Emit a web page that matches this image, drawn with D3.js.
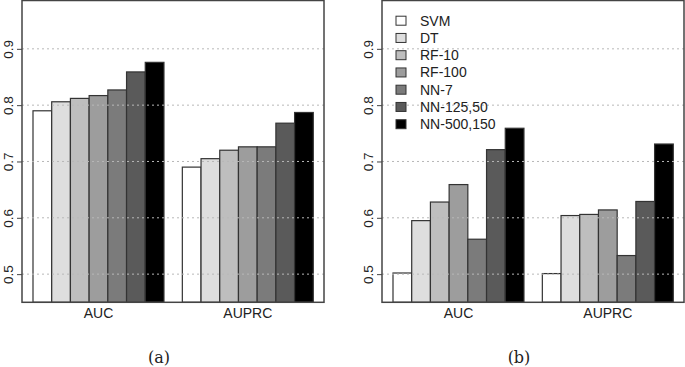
<!DOCTYPE html>
<html>
<head>
<meta charset="utf-8">
<script src="https://cdn.jsdelivr.net/npm/d3@7"></script>
<style>
  body { margin: 0; background: #fff; }
  svg { display: block; font-family: "Liberation Sans", Arial, sans-serif; }
</style>
</head>
<body>
<div id="viz"></div>
<script>
// models (legend order) and the two metric groups
var models = ["SVM", "DT", "RF-10", "RF-100", "NN-7", "NN-125,50", "NN-500,150"];
var metrics = ["AUC", "AUPRC"];

// panel (a)
var aucA   = [0.790, 0.806, 0.812, 0.817, 0.827, 0.859, 0.876];
var auprcA = [0.690, 0.705, 0.720, 0.726, 0.726, 0.768, 0.787];

// panel (b)
var aucB   = [0.502, 0.595, 0.628, 0.659, 0.562, 0.721, 0.759];
var auprcB = [0.501, 0.604, 0.606, 0.614, 0.533, 0.629, 0.731];

var yTicks = [0.5, 0.6, 0.7, 0.8, 0.9];
var captions = ["(a)", "(b)"];

var fills = ["#ffffff", "#dedede", "#bebebe", "#9d9d9d", "#7b7b7b", "#5a5a5a", "#000000"];

var W = 685, H = 367;

var svg = d3.select("#viz").append("svg")
  .attr("width", W)
  .attr("height", H);

// box of one panel, in panel coordinates
var box = {left: 22, right: 324, top: 0.5, bottom: 302.3};

var y = d3.scaleLinear().domain([0.45, 0.9858]).range([box.bottom, box.top]);

var x0 = d3.scaleBand().domain(metrics).range([33, 313.3]).paddingInner(0.123).paddingOuter(0);
var x1 = d3.scaleBand().domain(models).range([0, x0.bandwidth()]);

function panel(offset, values, caption, showLegend) {
  var g = svg.append("g").attr("transform", "translate(" + offset + ",0)");

  var rows = metrics.map(function(m, i) {
    return {metric: m, vals: values[i]};
  });

  // bars
  var grp = g.selectAll("g.grp")
    .data(rows)
    .enter().append("g")
    .attr("class", "grp")
    .attr("transform", d => "translate(" + x0(d.metric) + ",0)");

  grp.selectAll("rect")
    .data(d => d.vals.map((v, i) => ({model: models[i], v: v})))
    .enter().append("rect")
    .attr("x", d => x1(d.model))
    .attr("width", x1.bandwidth())
    .attr("y", d => y(d.v))
    .attr("height", d => box.bottom - y(d.v))
    .attr("fill", (d, i) => fills[i])
    .attr("stroke", "#333")
    .attr("stroke-width", 1.2);

  // dotted grid, drawn over the bars as in the original
  g.selectAll("line.grid")
    .data(yTicks)
    .enter().append("line")
    .attr("class", "grid")
    .attr("x1", box.left).attr("x2", box.right)
    .attr("y1", d => y(d)).attr("y2", d => y(d))
    .attr("stroke", "#b8b8b8")
    .attr("stroke-width", 1)
    .attr("stroke-dasharray", "2,3");

  // frame
  g.append("rect")
    .attr("x", box.left).attr("y", box.top)
    .attr("width", box.right - box.left)
    .attr("height", box.bottom - box.top)
    .attr("fill", "none")
    .attr("stroke", "#444")
    .attr("stroke-width", 1.5);

  // y axis with rotated labels
  var yAxis = g.append("g")
    .attr("transform", "translate(" + box.left + ",0)")
    .call(d3.axisLeft(y).tickValues(yTicks).tickSize(5).tickFormat(d3.format(".1f")));
  yAxis.select(".domain").remove();
  yAxis.selectAll(".tick line").attr("stroke", "#444");
  yAxis.selectAll(".tick text")
    .attr("transform", "rotate(-90)")
    .attr("x", 0)
    .attr("y", -9.5)
    .attr("dy", 0)
    .attr("text-anchor", "middle")
    .attr("fill", "#222")
    .style("font-size", "13.5px")
    .style("font-family", "Liberation Sans, Arial, sans-serif");

  // group labels
  g.selectAll("text.metric")
    .data(metrics)
    .enter().append("text")
    .attr("class", "metric")
    .attr("x", d => x0(d) + x0.bandwidth() / 2)
    .attr("y", 318)
    .attr("text-anchor", "middle")
    .attr("fill", "#222")
    .style("font-size", "14px")
    .text(d => d);

  // caption
  g.append("text")
    .attr("x", 159)
    .attr("y", 363)
    .attr("text-anchor", "middle")
    .attr("fill", "#222")
    .style("font-family", "DejaVu Serif, serif")
    .style("font-size", "16px")
    .text(caption);

  if (showLegend) {
    var leg = g.selectAll("g.leg")
      .data(models)
      .enter().append("g")
      .attr("class", "leg")
      .attr("transform", (d, i) => "translate(36," + (20.7 + i * 17.25) + ")");
    leg.append("rect")
      .attr("x", 0).attr("y", -4.5)
      .attr("width", 10).attr("height", 9)
      .attr("fill", (d, i) => fills[i])
      .attr("stroke", "#333")
      .attr("stroke-width", 1);
    leg.append("text")
      .attr("x", 24)
      .attr("y", 5)
      .attr("fill", "#222")
      .style("font-size", "14px")
      .text(d => d);
  }
}

panel(0, [aucA, auprcA], captions[0], false);
panel(360, [aucB, auprcB], captions[1], true);
</script>
</body>
</html>
